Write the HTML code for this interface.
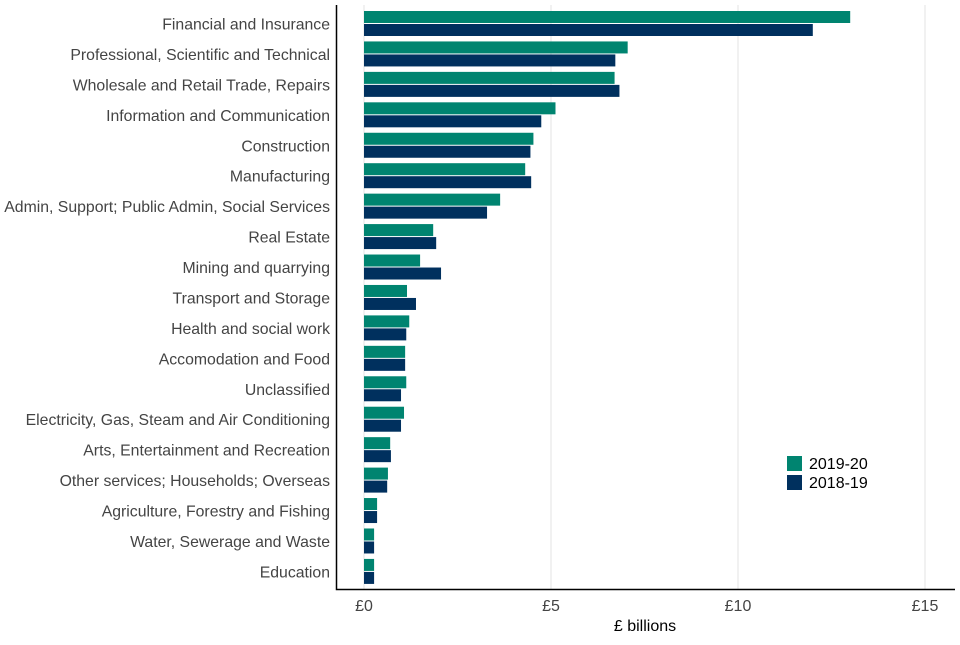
<!DOCTYPE html>
<html><head><meta charset="utf-8"><style>
body{margin:0;background:#fff;font-family:"Liberation Sans",sans-serif;}
svg text{font-family:"Liberation Sans",sans-serif;}
</style></head><body>
<svg id="chart" width="960" height="640"></svg>
<script>
const categories=["Financial and Insurance","Professional, Scientific and Technical","Wholesale and Retail Trade, Repairs","Information and Communication","Construction","Manufacturing","Admin, Support; Public Admin, Social Services","Real Estate","Mining and quarrying","Transport and Storage","Health and social work","Accomodation and Food","Unclassified","Electricity, Gas, Steam and Air Conditioning","Arts, Entertainment and Recreation","Other services; Households; Overseas","Agriculture, Forestry and Fishing","Water, Sewerage and Waste","Education"];
const values2019=[13.0,7.05,6.7,5.12,4.53,4.31,3.64,1.85,1.5,1.15,1.21,1.1,1.13,1.07,0.7,0.64,0.35,0.27,0.27];
const values2018=[12.0,6.72,6.83,4.74,4.45,4.47,3.29,1.93,2.06,1.39,1.13,1.1,0.99,0.99,0.72,0.62,0.35,0.27,0.27];
const ticks=[0,5,10,15];
const tickLabels=["£0","£5","£10","£15"];
const NS="http://www.w3.org/2000/svg";
const svg=document.getElementById('chart');
const x=v=>364+v*37.4;
const yc=i=>23.5+i*30.44;
function mk(t,a,p){const e=document.createElementNS(NS,t);for(const k in a)e.setAttribute(k,a[k]);(p||svg).appendChild(e);return e;}
ticks.forEach((t,i)=>{
 const g=mk('line',{x1:x(t),x2:x(t),y1:5,y2:589,stroke:'#e3e3e3','stroke-width':1});
 
 
 const tl=mk('text',{x:x(t),y:611,'text-anchor':'middle','font-size':16,fill:'#444'});
 tl.textContent=tickLabels[i];
 
 
});
categories.forEach((c,i)=>{
 const y=yc(i);
 const b1=mk('rect',{x:x(0),y:y-12.5,width:x(values2019[i])-x(0),height:12,fill:'#008470'});
 
 
 const b2=mk('rect',{x:x(0),y:y+0.5,width:x(values2018[i])-x(0),height:12,fill:'#00305e'});
 
 
 const t=mk('text',{x:330,y:y+6,'text-anchor':'end','font-size':15.8,fill:'#444'});
 t.textContent=c;
 
 
});
const ax=mk('path',{d:'M336.5 5 V589.5 H955',stroke:'#000','stroke-width':1.5,fill:'none'});


const xt=mk('text',{x:645,y:631,'text-anchor':'middle','font-size':16,fill:'#000'});
xt.textContent='£ billions';


const lg=mk('g',{});


[['2019-20','#008470',456],['2018-19','#00305e',475]].forEach(([l,c,y])=>{
 const r=mk('rect',{x:787,y:y,width:15,height:15,fill:c},lg);
 
 
 const t=mk('text',{x:809,y:y+13,'font-size':16,fill:'#000'},lg);
 t.textContent=l;
 
 
});
</script>
</body></html>
